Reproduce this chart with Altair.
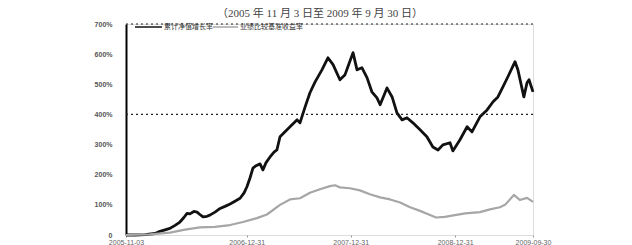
import altair as alt
import pandas as pd

fund_dates = ["2005-11-03","2005-12-05","2006-01-09","2006-02-13","2006-03-02","2006-03-20","2006-04-06","2006-04-24",
              "2006-05-11","2006-05-25","2006-06-05","2006-06-15","2006-06-29","2006-07-10","2006-07-20","2006-07-31",
              "2006-08-14","2006-08-24","2006-09-11","2006-09-29","2006-10-16","2006-11-03","2006-11-20","2006-12-08",
              "2006-12-22","2007-01-01","2007-01-12","2007-01-22","2007-02-02","2007-02-16","2007-02-26","2007-03-09",
              "2007-03-23","2007-04-06","2007-04-16","2007-04-27","2007-06-01","2007-06-26","2007-07-06","2007-07-24",
              "2007-08-10","2007-08-28","2007-09-21","2007-10-12","2007-10-30","2007-11-23","2007-12-11","2007-12-21",
              "2008-01-08","2008-01-22","2008-02-08","2008-02-26","2008-03-14","2008-04-01","2008-04-12","2008-05-06",
              "2008-05-24","2008-06-10","2008-06-28","2008-07-15","2008-08-05","2008-08-30","2008-09-23","2008-10-14",
              "2008-11-01","2008-11-18","2008-12-13","2008-12-23","2009-01-17","2009-02-11","2009-02-28","2009-03-28",
              "2009-04-22","2009-05-13","2009-05-30","2009-06-17","2009-07-04","2009-07-29","2009-08-08","2009-08-22",
              "2009-08-29","2009-09-09","2009-09-16","2009-09-30"]
fund_values = [0,0,1,5,12,17,22,32,
               43,58,72,70,78,76,68,60,
               62,66,76,88,95,103,112,122,
               140,160,190,222,230,236,216,240,
               259,275,282,326,359,382,372,425,
               472,508,548,588,565,515,532,558,
               605,548,555,522,475,455,432,488,
               458,405,382,389,372,349,326,292,
               282,299,306,279,316,359,342,392,
               415,442,458,492,525,575,548,488,
               458,505,515,475]

bench_dates = ["2005-11-03","2006-01-26","2006-04-06","2006-05-29","2006-07-20","2006-09-11","2006-11-03","2006-12-18",
               "2007-02-05","2007-03-12","2007-04-27","2007-06-01","2007-07-06","2007-08-10","2007-09-14","2007-10-19",
               "2007-11-06","2007-11-23","2007-12-28","2008-02-01","2008-03-07","2008-04-12","2008-05-17","2008-06-21",
               "2008-07-26","2008-08-30","2008-10-04","2008-10-25","2008-11-25","2008-12-30","2009-02-04","2009-03-28",
               "2009-05-02","2009-06-06","2009-06-24","2009-07-25","2009-08-15","2009-09-09","2009-09-30"]
bench_values = [0,2,8,18,25,27,33,43,
                56,68,100,118,122,140,152,162,
                165,158,155,148,135,125,118,108,
                92,80,66,58,60,66,72,76,
                85,92,100,133,116,123,110]

series_names = ["累计净值增长率", "业绩比较基准收益率"]
series_colors = ["#111111", "#a6a6a6"]
ref_levels = [400, 700]
y_ticks = [0, 100, 200, 300, 400, 500, 600, 700]
x_ticks = ["2005-11-03", "2006-12-31", "2007-12-31", "2008-12-31", "2009-09-30"]
title_text = "（2005 年 11 月 3 日至 2009 年 9 月 30 日）"

df = pd.concat([
    pd.DataFrame({"date": fund_dates, "value": fund_values, "series": series_names[0]}),
    pd.DataFrame({"date": bench_dates, "value": bench_values, "series": series_names[1]}),
])

x_scale = alt.Scale(domain=["2005-11-03", "2009-09-30"])
y_scale = alt.Scale(domain=[0, 700], nice=False)
y_axis = alt.Axis(values=y_ticks, tickCount=8,
                  labelExpr="datum.value == 0 ? '0' : datum.value + '%'",
                  labelFontSize=7, labelColor="#555", labelFontWeight="bold",
                  labelOverlap=False,
                  domain=True, domainColor="#000", domainWidth=2, ticks=False,
                  grid=False, labelPadding=14)

lines = alt.Chart(df).mark_line(strokeJoin="round").encode(
    x=alt.X("date:T", scale=x_scale, title=None,
            axis=alt.Axis(values=x_ticks, format="%Y-%m-%d", labelFontSize=7, labelColor="#666",
                          domain=False, ticks=True, tickSize=2, tickColor="#999", grid=False,
                          labelPadding=1, labelFlush=False, labelOverlap=False)),
    y=alt.Y("value:Q", scale=y_scale, title=None, axis=y_axis),
    color=alt.Color("series:N", scale=alt.Scale(domain=series_names, range=series_colors), legend=None),
    strokeWidth=alt.StrokeWidth("series:N", scale=alt.Scale(domain=series_names, range=[2.8, 2.2]), legend=None),
    order=alt.Order("series:N", sort="descending"),
)

rules = alt.Chart(pd.DataFrame({"level": ref_levels})).mark_rule(
    color="#222", strokeDash=[2, 3], strokeWidth=1.2
).encode(y=alt.Y("level:Q", scale=y_scale, title=None, axis=y_axis))

title = alt.Chart(pd.DataFrame({"t": [title_text]})).mark_text(
    font="Liberation Serif, Noto Sans CJK SC", fontSize=11, color="#444", baseline="alphabetic"
).encode(text="t:N", x=alt.value(194), y=alt.value(-7))

leg = pd.DataFrame({"name": series_names, "x1": [9, 87], "x2": [36, 112], "tx": [38, 114]})
leg_lines = alt.Chart(leg).mark_rule(strokeWidth=1.5).encode(
    x=alt.X("x1:Q", scale=None), x2="x2:Q", y=alt.value(3),
    color=alt.Color("name:N", scale=alt.Scale(domain=series_names, range=series_colors), legend=None),
)
leg_text = alt.Chart(leg).mark_text(align="left", baseline="middle", fontSize=7, color="#333",
                                    font="Noto Sans CJK SC").encode(
    x=alt.X("tx:Q", scale=None), y=alt.value(3), text="name:N",
)

chart = alt.layer(lines, rules, title, leg_lines, leg_text).properties(
    width=407, height=211,
    autosize=alt.AutoSizeParams(type="none"),
    padding={"left": 118, "top": 16, "right": 90, "bottom": 10},
).resolve_scale(color="independent").configure_view(stroke=None).configure(background="white")

chart.save("out.html", embed_options={"renderer": "svg", "actions": False})
